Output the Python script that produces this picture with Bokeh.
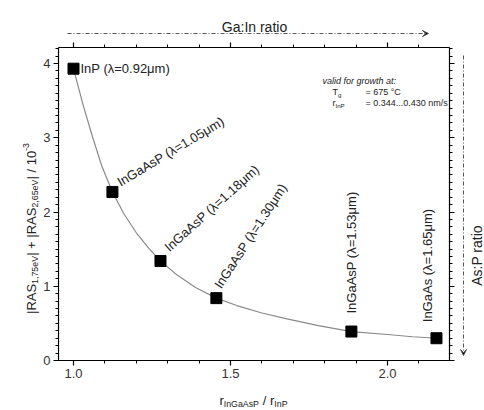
import math
from bokeh.plotting import figure
from bokeh.models import Range1d, FixedTicker, LinearAxis, Label, Arrow, VeeHead
from bokeh.embed import file_html
from bokeh.resources import INLINE

# ---------------- data ----------------
ratio = [1.0, 1.124, 1.277, 1.455, 1.885, 2.156]
ras = [3.93, 2.27, 1.34, 0.84, 0.39, 0.30]
names = ["InP (λ=0.92μm)", "InGaAsP (λ=1.05μm)", "InGaAsP (λ=1.18μm)",
         "InGaAsP (λ=1.30μm)", "InGaAsP (λ=1.53μm)", "InGaAs (λ=1.65μm)"]

fit_x = [1.0, 1.03, 1.06, 1.09, 1.124, 1.16, 1.2, 1.24, 1.277, 1.33, 1.39,
         1.455, 1.52, 1.6, 1.68, 1.78, 1.885, 2.0, 2.08, 2.16]
fit_y = [3.93, 3.45, 3.02, 2.62, 2.27, 1.98, 1.72, 1.51, 1.34, 1.15, 0.98,
         0.84, 0.74, 0.64, 0.56, 0.47, 0.39, 0.35, 0.32, 0.30]

x_major = [1.0, 1.5, 2.0]
x_labels = ["1.0", "1.5", "2.0"]
y_major = [0, 1, 2, 3, 4]
y_labels = ["0", "1", "2", "3", "4"]
x_minor = [round(1.0 + 0.1 * i, 2) for i in range(12)]
y_minor = [round(0.1 * i, 2) for i in range(43)]

# label layout (angle in degrees, offsets in px)
lab_angle = [0, 31, 42, 57, 90, 90]
lab_dx = [7, 6, 6, 1, 0, -9]
lab_dy = [0, 9, 12, 11, 18, 16]

# ---------------- geometry ----------------
W, H = 484, 410
FL, FR, FT, FB = 58, 449, 47, 360      # box edges in canvas px
X1_PX, SX = 73, 314.0                  # canvas x of ratio 1.0, px per unit
Y0_PX, SY = 360, 74.25                 # canvas y of value 0, px per unit

def dx(X):
    return 1.0 + (X - X1_PX) / SX

def dy(Y):
    return (Y0_PX - Y) / SY

p = figure(width=W, height=H,
           x_range=Range1d(dx(0), dx(W)), y_range=Range1d(dy(H), dy(0)),
           output_backend="svg", toolbar_location=None,
           min_border=0, min_border_left=0, min_border_right=0,
           min_border_top=0, min_border_bottom=0)
p.xgrid.visible = False
p.ygrid.visible = False
p.outline_line_color = None
p.background_fill_color = "white"
p.border_fill_color = "white"

FONT = "Liberation Sans"
xb = (dx(FL), dx(FR))
yb = (dy(FB), dy(FT))

def style_axis(ax, ticks, minor, labels, bounds, loc):
    ax.ticker = FixedTicker(ticks=ticks, minor_ticks=minor)
    ax.bounds = bounds
    ax.fixed_location = loc
    ax.axis_line_color = "black"
    ax.axis_line_width = 1.2
    ax.major_tick_line_color = "black"
    ax.minor_tick_line_color = "black"
    ax.major_tick_line_width = 1.2
    ax.minor_tick_line_width = 1
    ax.major_tick_out = 5
    ax.major_tick_in = 0
    ax.minor_tick_out = 3
    ax.minor_tick_in = 0
    ax.major_label_text_font = FONT
    ax.major_label_text_color = "#333333"
    ax.major_label_text_font_size = "13px"
    ax.major_label_standoff = 3
    ax.major_label_overrides = {t: l for t, l in zip(ticks, labels)}

style_axis(p.xaxis[0], x_major, x_minor, x_labels, xb, yb[0])
style_axis(p.yaxis[0], y_major, y_minor, y_labels, yb, xb[0])
top = LinearAxis()
style_axis(top, x_major, x_minor, ["" for _ in x_major], xb, yb[1])
p.add_layout(top, "above")
right = LinearAxis()
style_axis(right, y_major, y_minor, ["" for _ in y_major], yb, xb[1])
p.add_layout(right, "right")

# fitted curve and points
p.line(fit_x, fit_y, line_color="#8a8a8a", line_width=1.2)
p.scatter(ratio, ras, marker="square", size=11, fill_color="black", line_color="black")

for x, y, t, a, ox, oy in zip(ratio, ras, names, lab_angle, lab_dx, lab_dy):
    p.add_layout(Label(x=x, y=y, x_offset=ox, y_offset=oy, text=t, angle=a, angle_units="deg",
                       text_align="left", text_baseline="middle", text_font=FONT,
                       text_font_size="13px", text_color="#222222"))

# ---------------- rich text helper ----------------
CW = {' ': 278, '|': 260, 'R': 722, 'A': 667, 'S': 667, '+': 584, '/': 278, ',': 278, '.': 278,
      'e': 556, 'V': 667, '-': 333, 'I': 278, 'n': 556, 'G': 778, 'a': 556, 's': 500, 'P': 667,
      'r': 333, ':': 278, 't': 278, 'i': 222, 'o': 556, 'T': 611, 'g': 556, '=': 584, '°': 400,
      'C': 722, 'm': 833, 'v': 500, 'l': 222, 'd': 556, 'f': 278, 'w': 722, 'h': 556}

def tw(txt, size):
    return sum(CW.get(c, 556) for c in txt) / 1000.0 * size

def rich(parts, X, Y, ang, size, color="#222222", style="normal", center=False):
    a = math.radians(ang)
    ux, uy = math.cos(a), math.sin(a)
    px, py = -math.sin(a), math.cos(a)
    sizes = [size if k == "n" else size * 0.68 for _, k in parts]
    total = sum(tw(t, s) for (t, _), s in zip(parts, sizes))
    sx0, sy0 = X, H - Y
    pos = -total / 2 if center else 0
    for (txt, kind), s in zip(parts, sizes):
        lead = len(txt) - len(txt.lstrip(" "))
        pos += tw(" " * lead, s)
        body = txt.strip(" ")
        shift = {"n": 0, "b": -0.3 * size, "p": 0.42 * size}[kind]
        x = sx0 + ux * pos + px * shift
        y = sy0 + uy * pos + py * shift
        p.add_layout(Label(x=x, y=y, x_units="screen", y_units="screen", text=body,
                           angle=ang, angle_units="deg", text_align="left",
                           text_baseline="alphabetic", text_font=FONT, text_font_style=style,
                           text_font_size=f"{s:.1f}px", text_color=color))
        pos += tw(txt.lstrip(" "), s)

# axis titles
rich([("r", "n"), ("InGaAsP", "b"), (" / r", "n"), ("InP", "b")], 253, 400, 0, 13, center=True)
rich([("|RAS", "n"), ("1,75eV", "b"), ("| + |RAS", "n"), ("2,65eV", "b"), ("| / 10", "n"), ("-3", "p")],
     31, 228, 90, 13, center=True)

# info box
rich([("valid for growth at:", "n")], 322, 80, 0, 9, style="italic")
rich([("T", "n"), ("g", "b")], 332, 91, 0, 9)
rich([("= 675 °C", "n")], 365, 91, 0, 9)
rich([("r", "n"), ("InP", "b")], 332, 102, 0, 9)
rich([("= 0.344...0.430 nm/s", "n")], 365, 102, 0, 9)

# composition arrows
p.add_layout(Label(x=254, y=H - 26, x_units="screen", y_units="screen", text="Ga:In ratio",
                   text_align="center", text_baseline="alphabetic", text_font=FONT,
                   text_font_size="14px", text_color="#222222"))
p.add_layout(Arrow(x_start=67, y_start=H - 33, x_end=428, y_end=H - 33,
                   start_units="screen", end_units="screen", line_color="#555555",
                   line_width=1, line_dash="4 2 1 2",
                   end=VeeHead(size=6, line_color="#555555", line_width=1)))
p.add_layout(Label(x=476, y=H - 255, x_units="screen", y_units="screen", text="As:P ratio",
                   angle=90, angle_units="deg", text_align="center", text_baseline="middle",
                   text_font=FONT, text_font_size="14px", text_color="#222222"))
p.add_layout(Arrow(x_start=463, y_start=H - 55, x_end=463, y_end=H - 355,
                   start_units="screen", end_units="screen", line_color="#555555",
                   line_width=1, line_dash="4 2 1 2",
                   end=VeeHead(size=6, line_color="#555555", line_width=1)))

open("out.html", "w").write(file_html(p, INLINE))
